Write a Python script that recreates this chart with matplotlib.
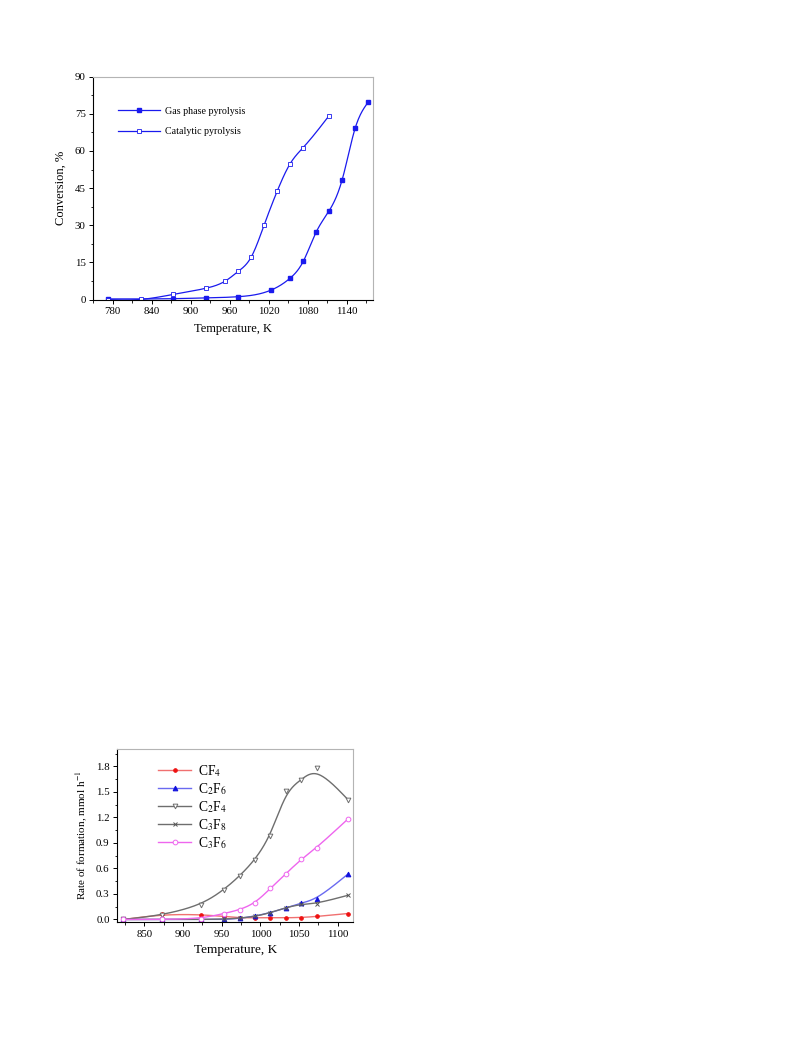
import numpy as np
import matplotlib
matplotlib.use('Agg')
import matplotlib.pyplot as plt
from matplotlib.ticker import MultipleLocator, FormatStrFormatter

# conversion vs temperature (top panel)
temp_gas = [773, 873, 923, 973, 1023, 1053, 1073, 1093, 1113, 1133, 1153, 1173]
conv_gas = [0.3, 0.4, 0.7, 1.2, 3.8, 8.7, 15.4, 27.3, 35.9, 48.4, 69.2, 79.7]
temp_cat = [773, 823, 873, 923, 953, 973, 993, 1013, 1033, 1053, 1073, 1113]
conv_cat = [0.0, 0.1, 2.1, 4.6, 7.5, 11.4, 17.2, 30.2, 43.8, 54.9, 61.4, 74.3]

# rate of formation of products (bottom panel)
temp_prod = [823, 873, 923, 953, 973, 993, 1013, 1033, 1053, 1073, 1113]
rate_cf4 = [0.0, 0.06, 0.058, 0.035, 0.02, 0.02, 0.02, 0.02, 0.023, 0.035, 0.07]
rate_c2f6 = [0.0, 0.0, 0.0, 0.0, 0.012, 0.04, 0.08, 0.136, 0.195, 0.237, 0.533]
rate_c2f4 = [0.0, 0.05, 0.167, 0.35, 0.51, 0.70, 0.98, 1.51, 1.645, 1.786, 1.41]
rate_c3f8 = [0.0, 0.0, 0.0, 0.005, 0.015, 0.035, 0.08, 0.14, 0.18, 0.187, 0.284]
rate_c3f6 = [0.0, 0.0, 0.01, 0.07, 0.113, 0.19, 0.366, 0.54, 0.71, 0.845, 1.18]

plt.rcParams['font.family'] = ['Liberation Serif', 'DejaVu Serif']
plt.rcParams['mathtext.fontset'] = 'stix'


def spline(x, y, n=400):
    # natural cubic spline through the points (smooth connecting line)
    x = np.asarray(x, float)
    y = np.asarray(y, float)
    npt = len(x)
    h = np.diff(x)
    A = np.zeros((npt, npt))
    r = np.zeros(npt)
    A[0, 0] = A[-1, -1] = 1
    for k in range(1, npt - 1):
        A[k, k - 1] = h[k - 1]
        A[k, k] = 2 * (h[k - 1] + h[k])
        A[k, k + 1] = h[k]
        r[k] = 6 * ((y[k + 1] - y[k]) / h[k] - (y[k] - y[k - 1]) / h[k - 1])
    M = np.linalg.solve(A, r)
    xs = np.linspace(x[0], x[-1], n)
    i = np.clip(np.searchsorted(x, xs) - 1, 0, npt - 2)
    a = x[i + 1] - xs
    b = xs - x[i]
    hi = h[i]
    ys = (M[i] * a**3 / (6 * hi) + M[i + 1] * b**3 / (6 * hi)
          + (y[i] / hi - M[i] * hi / 6) * a + (y[i + 1] / hi - M[i + 1] * hi / 6) * b)
    return xs, ys


def bspline(x, y, n=40):
    # clamped uniform cubic B-spline, the data points act as control points
    px = np.r_[x[0], x[0], x, x[-1], x[-1]].astype(float)
    py = np.r_[y[0], y[0], y, y[-1], y[-1]].astype(float)
    t = np.linspace(0, 1, n)
    b0 = (1 - t)**3 / 6
    b1 = (3 * t**3 - 6 * t**2 + 4) / 6
    b2 = (-3 * t**3 + 3 * t**2 + 3 * t + 1) / 6
    b3 = t**3 / 6
    xs, ys = [], []
    for k in range(len(px) - 3):
        xs.append(b0 * px[k] + b1 * px[k + 1] + b2 * px[k + 2] + b3 * px[k + 3])
        ys.append(b0 * py[k] + b1 * py[k + 1] + b2 * py[k + 2] + b3 * py[k + 3])
    return np.concatenate(xs), np.concatenate(ys)


def style_axes(ax, fs):
    for s in ['top', 'right']:
        ax.spines[s].set_color('#b4b4b4')
    for s in ax.spines.values():
        s.set_linewidth(0.8)
    ax.tick_params(which='major', direction='out', length=3, width=0.7, labelsize=fs, pad=2.5)
    ax.tick_params(which='minor', direction='out', length=1.8, width=0.6)
    ax.tick_params(top=False, right=False, which='both')


fig = plt.figure(figsize=(7.93, 10.57), dpi=100)

# ---- top panel
ax1 = fig.add_axes([0.1177, 0.7165, 0.3523, 0.2110])
blue = '#1a1aee'
xs, ys = spline(temp_gas, conv_gas)
ax1.plot(xs, ys, color=blue, lw=0.9)
ax1.plot(temp_gas, conv_gas, 's', color=blue, ms=3.2, mec=blue)
xs, ys = spline(temp_cat, conv_cat)
ax1.plot(xs, ys, color=blue, lw=0.9)
ax1.plot(temp_cat, conv_cat, 's', color=blue, ms=3.2, mfc='white', mec=blue, mew=0.6)
# legend entries
ax1.plot([], [], '-s', color=blue, lw=0.9, ms=3.2, label='Gas phase pyrolysis')
ax1.plot([], [], '-s', color=blue, lw=0.9, ms=3.2, mfc='white', mew=0.6, label='Catalytic pyrolysis')
ax1.legend(loc='upper left', bbox_to_anchor=(0.087, 0.866), frameon=False, fontsize=7.2,
           handlelength=4.2, handletextpad=0.5, labelspacing=1.15, borderpad=0, borderaxespad=0)

ax1.set_xlim(750, 1180)
ax1.set_ylim(0, 90)
ax1.set_xticks(np.arange(780, 1181, 60))
ax1.xaxis.set_minor_locator(MultipleLocator(30))
ax1.yaxis.set_major_locator(MultipleLocator(15))
ax1.yaxis.set_minor_locator(MultipleLocator(7.5))
style_axes(ax1, 7.8)
ax1.set_xlabel('Temperature, K', fontsize=9, labelpad=5)
ax1.set_ylabel('Conversion, %', fontsize=9, labelpad=6)

# ---- bottom panel
ax2 = fig.add_axes([0.1479, 0.1277, 0.2976, 0.1634])
series = [
    ('CF$_4$', rate_cf4, '#f07070', 'o', '#ee1111', '#ee1111', 2.6),
    ('C$_2$F$_6$', rate_c2f6, '#6a6af0', '^', '#1010dd', '#1010dd', 3.4),
    ('C$_2$F$_4$', rate_c2f4, '#6e6e6e', 'v', 'white', '#6e6e6e', 3.4),
    ('C$_3$F$_8$', rate_c3f8, '#6e6e6e', 'x', '#555555', '#555555', 3.0),
    ('C$_3$F$_6$', rate_c3f6, '#ee66ee', 'o', 'white', '#ee66ee', 3.4),
]
for label, vals, lc, mk, mfc, mec, ms in series:
    xs, ys = bspline(temp_prod, vals)
    ax2.plot(xs, ys, color=lc, lw=1.0)
    ax2.plot(temp_prod, vals, mk, ms=ms, mfc=mfc, mec=mec, mew=0.7, ls='none')
    ax2.plot([], [], '-', color=lc, lw=1.0, marker=mk, ms=ms, mfc=mfc, mec=mec, mew=0.7, label=label)
ax2.legend(loc='upper left', bbox_to_anchor=(0.174, 0.92), frameon=False, fontsize=9.8,
           handlelength=2.4, handletextpad=0.5, labelspacing=0.16, borderpad=0, borderaxespad=0)

ax2.set_xlim(815, 1120)
ax2.set_ylim(-0.03, 2.0)
ax2.xaxis.set_major_locator(MultipleLocator(50))
ax2.xaxis.set_minor_locator(MultipleLocator(25))
ax2.yaxis.set_major_locator(MultipleLocator(0.3))
ax2.yaxis.set_minor_locator(MultipleLocator(0.15))
ax2.yaxis.set_major_formatter(FormatStrFormatter('%.1f'))
style_axes(ax2, 7.8)
ax2.set_xlabel('Temperature, K', fontsize=9.5, labelpad=4)
ax2.set_ylabel('Rate of formation, mmol h$^{-1}$', fontsize=8, labelpad=4)

fig.savefig('out.png', dpi=100)
